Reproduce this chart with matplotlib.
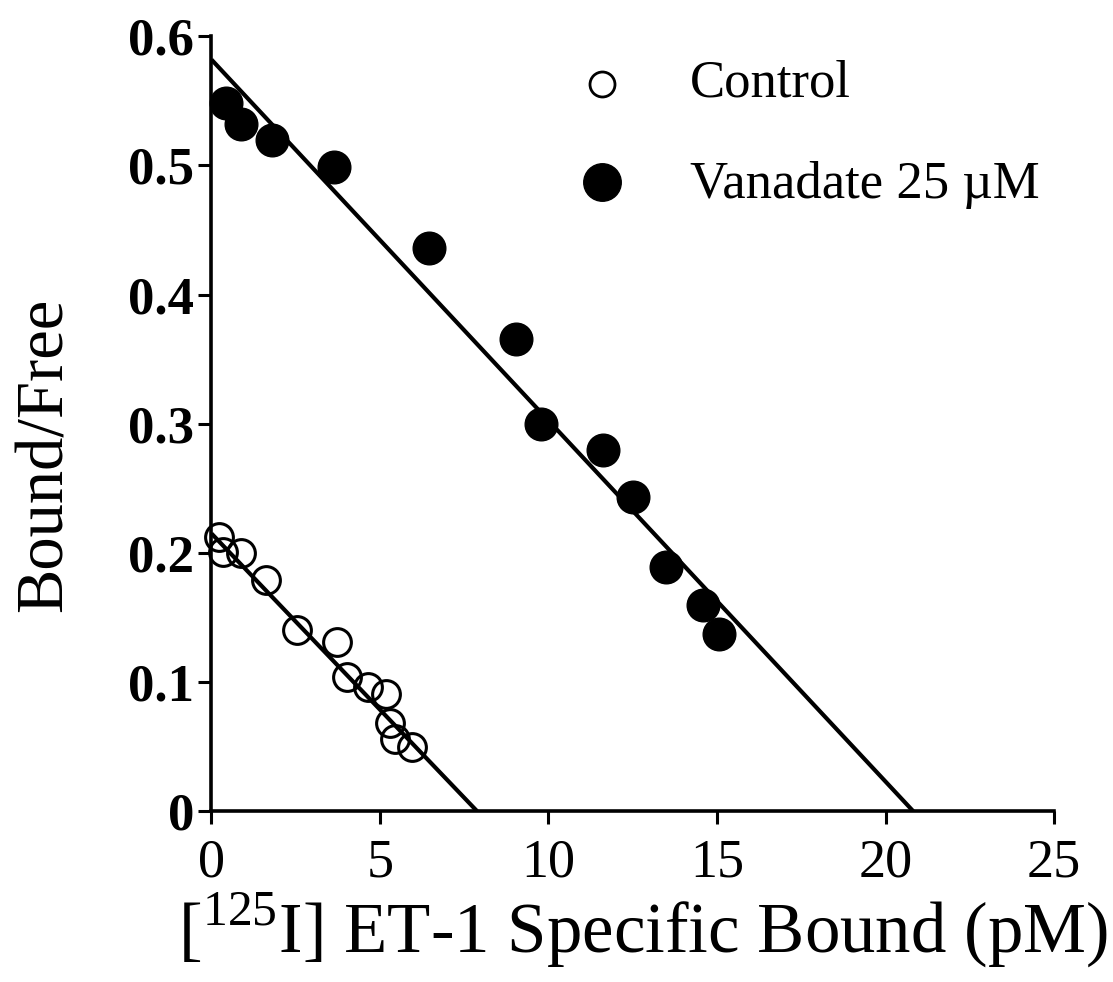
import numpy as np
import matplotlib as mpl
mpl.use("Agg")
import matplotlib.pyplot as plt

plt.rcParams['font.family'] = ['Liberation Serif', 'DejaVu Serif']
plt.rcParams['mathtext.fontset'] = 'custom'
plt.rcParams['mathtext.rm'] = 'Liberation Serif'

# control (open circles)
ctl_x = [0.23, 0.34, 0.89, 1.61, 2.54, 3.71, 4.01, 4.65, 5.19, 5.29, 5.44, 5.96]
ctl_y = [0.212, 0.201, 0.200, 0.179, 0.140, 0.131, 0.104, 0.096, 0.091, 0.068, 0.056, 0.050]
# vanadate 25 uM (filled circles)
van_x = [0.42, 0.89, 1.80, 3.64, 6.44, 9.03, 9.78, 11.62, 12.51, 13.49, 14.57, 15.06]
van_y = [0.548, 0.532, 0.520, 0.499, 0.436, 0.366, 0.300, 0.2795, 0.2435, 0.189, 0.160, 0.137]
# fitted Scatchard lines: (x intercept, y intercept)
ctl_fit = [7.88, 0.215]
van_fit = [20.82, 0.582]

fig = plt.figure(figsize=(11.13, 9.82), dpi=100)
ax = fig.add_axes([0.190, 0.174, 0.757, 0.789])

ax.plot([0, ctl_fit[0]], [ctl_fit[1], 0], color='k', lw=3.0, solid_capstyle='butt')
ax.plot([0, van_fit[0]], [van_fit[1], 0], color='k', lw=3.0, solid_capstyle='butt')
ax.plot(ctl_x, ctl_y, 'o', ms=20, mfc='none', mec='k', mew=2.2, clip_on=False, zorder=3)
ax.plot(van_x, van_y, 'o', ms=23.5, mfc='k', mec='k', clip_on=False, zorder=3)

ax.set_xlim(0, 25)
ax.set_ylim(0, 0.6)
ax.set_xticks([0, 5, 10, 15, 20, 25])
ax.set_yticks([0, 0.1, 0.2, 0.3, 0.4, 0.5, 0.6])
ax.set_yticklabels(['0', '0.1', '0.2', '0.3', '0.4', '0.5', '0.6'], fontweight='bold')
for s in ['top', 'right']:
    ax.spines[s].set_visible(False)
for s in ['left', 'bottom']:
    ax.spines[s].set_linewidth(2.6)
ax.tick_params(axis='both', direction='out', length=9.5, width=2.2)
ax.tick_params(axis='x', labelsize=39, pad=10)
ax.tick_params(axis='y', labelsize=38, pad=3)

# legend drawn by hand
ax.plot([0.463], [0.939], 'o', ms=18, mfc='none', mec='k', mew=2.0,
        transform=ax.transAxes, clip_on=False)
ax.plot([0.463], [0.812], 'o', ms=27, mfc='k', mec='k',
        transform=ax.transAxes, clip_on=False)
ax.text(0.568, 0.939, 'Control', fontsize=38, ha='left', va='center', transform=ax.transAxes)
ax.text(0.568, 0.808, 'Vanadate 25 \u00b5M', fontsize=38, ha='left', va='center',
        transform=ax.transAxes)

fig.text(45/1113, 1-455/982, 'Bound/Free', fontsize=48, rotation=90, ha='center', va='center')
fig.text(643/1113, 1-930/982, r'[$^{125}$I] ET-1 Specific Bound (pM)', fontsize=51,
         ha='center', va='center')

fig.savefig('out.png', dpi=100)
